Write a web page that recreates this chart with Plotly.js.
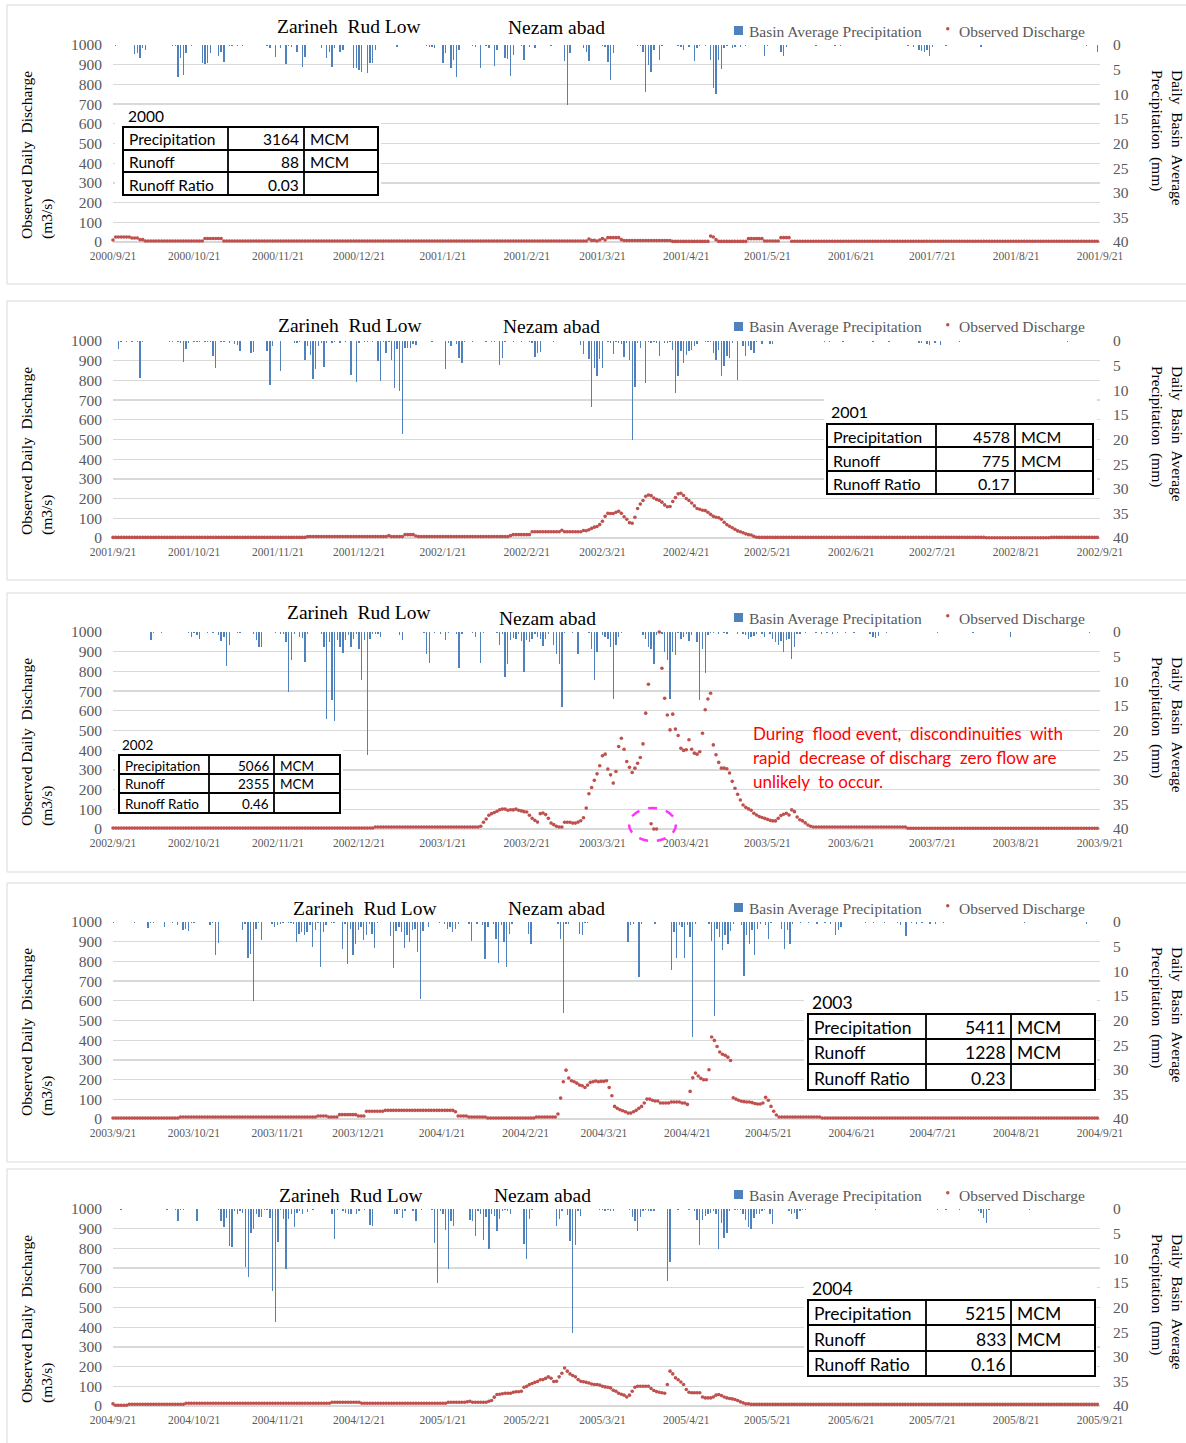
<!DOCTYPE html>
<html>
<head>
<meta charset="utf-8">
<script src="https://cdn.plot.ly/plotly-3.0.1.min.js"></script>
<style>html,body{margin:0;padding:0;background:#fff}</style>
</head>
<body>
<div id="chart" style="width:1186px;height:1443px"></div>
<script>
// ---------------- data ----------------
// hydrological years, 21 Sep to 21 Sep
const seasonStarts = ['2000-09-21', '2001-09-21', '2002-09-21', '2003-09-21', '2004-09-21'];
const seasonEnds   = ['2001-09-21', '2002-09-21', '2003-09-21', '2004-09-21', '2005-09-21'];

// summary tables (MCM)
const tableYears       = ['2000', '2001', '2002', '2003', '2004'];
const tablePrecipMCM   = [3164, 4578, 5066, 5411, 5215];
const tableRunoffMCM   = [88, 775, 2355, 1228, 833];
const tableRunoffRatio = ['0.03', '0.17', '0.46', '0.23', '0.16'];

// basin average precipitation: [day since season start, mm]
const precip2000 = [[1,0.15],[2,0.1],[8,1.9],[9,1.7],[10,2.6],[11,0.7],[12,1.1],[22,0.2],[23,0.3],[24,6.4],[25,2.7],[26,6.1],[27,1.7],[29,0.3],[33,3.7],[34,3.9],[35,3.7],[36,1.7],[39,2.2],[40,1.4],[41,3.5],[43,0.3],[44,0.3],[46,0.2],[48,0.2],[57,0.2],[58,0.7],[60,2.4],[62,0.7],[64,3.9],[65,0.3],[66,0.5],[68,1.4],[70,4.5],[71,2.4],[77,0.7],[79,2.6],[80,1.4],[81,4.4],[82,0.7],[84,1.4],[85,1],[89,4.7],[90,4.7],[91,5.1],[92,5.4],[94,5.7],[95,3.7],[96,3.7],[97,1],[105,0.5],[116,0.3],[117,0.4],[118,0.5],[119,0.6],[122,3.7],[123,1.7],[125,4.7],[126,3],[127,6.4],[128,1],[133,0.3],[134,0.4],[136,4.7],[138,0.3],[139,0.7],[141,4.2],[142,1],[145,2.7],[146,2.8],[147,6.2],[148,2],[151,0.3],[152,3],[154,0.5],[156,0.6],[162,0.2],[167,3.2],[168,12.2],[169,1.6],[174,0.7],[175,1.4],[176,3.2],[181,0.3],[182,0.4],[183,3.5],[184,7.1],[185,1.7],[194,0.2],[195,0.3],[196,1.4],[197,9.5],[198,4.1],[199,5.4],[200,1],[202,3],[203,0.2],[209,0.3],[210,0.4],[211,1],[213,0.5],[215,3.2],[216,0.7],[217,0.2],[219,0.3],[221,3],[222,8.8],[223,10],[224,3],[225,4.9],[226,0.7],[227,0.3],[229,0.6],[230,0.4],[232,0.5],[234,0.3],[241,2.2],[242,0.3],[247,1.4],[248,2.2],[249,0.4],[260,0.2],[267,0.2],[269,0.2],[294,0.3],[296,0.4],[298,1],[299,1.2],[300,1.4],[301,1],[302,2.2],[303,0.4],[308,0.3],[321,0.4],[360,0.2],[364,1.5]];
const precip2001 = [[2,1.7],[3,0.2],[5,0.2],[7,0.2],[9,0.3],[10,7.6],[11,0.3],[21,0.2],[22,0.2],[24,0.2],[25,0.5],[26,4.3],[27,1.6],[28,0.4],[30,0.3],[31,0.3],[32,0.3],[34,0.3],[35,0.3],[36,0.3],[37,3],[38,5.4],[40,0.3],[41,0.2],[43,0.5],[45,0.6],[46,0.8],[47,2],[51,2.4],[52,2.2],[57,2],[58,9],[59,1.1],[62,6.1],[67,0.5],[68,0.4],[69,0.3],[71,3.9],[72,1],[73,2.9],[74,7.8],[75,5.7],[76,1],[77,0.5],[78,5.2],[79,0.5],[81,0.4],[82,0.3],[84,0.4],[86,0.3],[88,7],[90,8.4],[91,0.4],[93,0.3],[94,0.3],[96,0.3],[98,4.1],[99,8.2],[100,0.3],[101,2.5],[102,0.3],[103,3.9],[104,9.5],[105,1.7],[106,10.1],[107,18.9],[108,1.5],[109,1.4],[110,1.4],[111,0.7],[112,0.9],[118,0.2],[123,5.6],[124,0.5],[125,1],[127,0.7],[128,3.4],[129,4.4],[130,0.3],[133,0.2],[138,0.2],[140,0.2],[141,0.3],[143,4.9],[144,3.4],[145,0.3],[148,0.2],[151,0.3],[154,0.2],[155,0.4],[156,3.2],[157,2.5],[158,2.2],[163,0.3],[173,0.9],[174,2.6],[176,3.7],[177,13.3],[178,5.4],[179,7.1],[180,3.7],[181,5.5],[183,0.3],[184,0.4],[185,2.6],[186,0.3],[187,0.5],[188,0.6],[189,3.2],[190,0.5],[191,3.8],[192,20],[193,9.3],[194,0.5],[195,1.4],[197,8.6],[198,0.3],[199,0.5],[200,0.3],[201,0.5],[202,3],[204,0.5],[205,0.5],[206,0.3],[207,1.8],[208,10.6],[209,7.2],[210,2.1],[211,4.5],[212,2.8],[213,2.1],[214,1.8],[215,1.1],[216,0.7],[219,0.2],[220,0.3],[221,0.3],[222,2.4],[223,3.8],[224,1.8],[225,7.2],[226,5.1],[227,3],[228,3.4],[229,0.5],[231,8],[233,1.1],[234,3],[235,1.1],[236,1.8],[237,2.4],[238,0.3],[240,0.7],[243,0.6],[244,0.6],[263,0.3],[265,0.2],[270,0.3],[281,0.2],[287,0.2],[298,0.4],[299,0.4],[301,0.6],[302,0.8],[304,0.5],[306,0.8],[313,0.2],[353,0.2]];
const precip2002 = [[14,1.7],[15,0.3],[18,0.2],[28,0.2],[29,1],[30,0.3],[31,0.7],[32,1.4],[35,0.3],[37,0.3],[39,0.7],[40,1.9],[41,1],[42,6.9],[43,2.6],[46,0.2],[47,0.3],[52,0.5],[53,1.7],[54,3],[55,3],[60,0.3],[62,0.5],[63,0.5],[64,2],[65,12.2],[66,5.6],[67,0.5],[69,1],[70,1.2],[71,6.1],[72,0.5],[77,0.4],[78,3],[79,17.6],[80,2],[81,13.9],[82,18.1],[83,1.7],[84,3],[85,4.2],[86,1.7],[87,0.7],[88,3],[89,1.4],[90,0.5],[91,3.5],[92,9.8],[93,1.7],[94,25],[95,1.4],[96,0.4],[97,0.4],[98,0.5],[99,1],[106,0.7],[107,1.7],[115,0.3],[116,4.4],[117,6.2],[119,0.3],[121,0.4],[123,1.7],[124,0.3],[127,0.4],[128,7.4],[129,0.5],[133,0.3],[134,1],[136,6.2],[137,0.3],[142,0.3],[143,2.6],[144,0.5],[145,9.1],[146,6.4],[147,1.7],[148,1.2],[149,1.4],[150,0.5],[151,1.9],[152,8.1],[153,1.7],[154,2],[155,1.4],[156,0.5],[157,1],[158,1.4],[159,2.8],[160,1.4],[161,0.5],[163,2.6],[164,4.4],[165,6.4],[166,15.2],[167,0.3],[170,0.2],[172,4.4],[176,0.3],[177,3.4],[178,9.8],[179,4.1],[181,0.7],[182,1],[183,1.4],[184,3],[185,13.6],[186,2.6],[187,1],[188,0.3],[196,0.7],[197,1.4],[198,3],[199,3.5],[200,6.4],[201,0.7],[203,0.5],[204,4.1],[205,5.7],[206,13.6],[207,4.1],[208,4.6],[209,0.3],[210,1.4],[211,1],[212,0.5],[213,1.9],[214,0.7],[216,2],[217,13.9],[218,3.4],[219,8.3],[220,0.7],[221,0.3],[222,0.3],[224,0.4],[226,0.3],[227,0.5],[231,0.4],[233,0.5],[234,0.7],[235,1.4],[236,1],[237,0.8],[238,0.5],[240,0.4],[241,1],[243,0.4],[244,1.4],[245,2],[246,2.6],[247,1.9],[248,4.1],[249,1.7],[250,1.4],[251,5.5],[252,3],[253,0.5],[254,0.4],[256,0.3],[260,0.3],[262,0.4],[264,0.3],[266,0.5],[268,0.2],[271,0.3],[274,0.3],[280,0.5],[281,1],[282,1.2],[283,0.8],[286,0.2],[305,0.2],[318,0.2],[332,1],[361,0.2]];
const precip2003 = [[0,0.2],[8,0.2],[13,1.2],[14,0.3],[15,0.3],[19,1],[22,0.2],[24,0.7],[26,1.7],[27,1.4],[28,1.9],[29,0.3],[30,0.2],[36,0.7],[37,0.3],[38,6.8],[39,4.2],[48,1.7],[49,0.5],[50,7.3],[51,6.4],[52,16.1],[53,1.4],[54,0.3],[55,3.7],[59,0.5],[60,1],[61,0.7],[62,0.5],[63,0.3],[65,0.2],[66,0.3],[67,0.5],[68,4.1],[69,2.4],[70,2],[71,2.7],[72,2],[73,0.7],[74,5.1],[75,1.7],[76,0.3],[77,9.1],[78,2],[79,0.7],[81,0.3],[82,0.3],[85,5.4],[86,0.5],[87,8.6],[88,1.4],[89,6.8],[90,4.4],[91,1.7],[92,1],[93,3.7],[94,2.7],[95,0.5],[96,2.4],[97,5.3],[98,0.3],[103,2.8],[104,9.3],[105,1.9],[106,1],[107,2],[108,5.3],[109,2.7],[110,4.1],[111,1.7],[112,1.4],[113,6.1],[114,15.7],[115,1.9],[117,1],[121,0.2],[123,0.5],[124,1.4],[125,1],[126,2],[127,1.4],[128,0.5],[132,0.5],[133,3.9],[135,0.4],[137,0.7],[138,7.6],[139,1],[141,0.5],[142,3.4],[143,8.4],[144,0.7],[145,4.1],[146,9.1],[147,2.4],[148,0.5],[154,2.4],[155,4.4],[165,0.5],[166,3.4],[167,18.4],[168,0.5],[169,0.5],[173,2.4],[174,2.7],[175,0.2],[176,0.2],[191,4.1],[192,0.7],[193,0.5],[195,11.1],[196,0.4],[201,0.5],[207,9.8],[208,2],[209,7.4],[210,0.7],[211,1],[212,7.3],[213,0.7],[214,3],[215,23.4],[216,0.5],[221,0.5],[222,3.9],[223,19.1],[224,1.4],[225,3],[226,5.7],[227,2.7],[228,4.4],[229,1.9],[230,0.4],[233,0.7],[234,10.9],[235,2.6],[236,4.4],[237,1.7],[238,6.6],[239,1.4],[240,0.4],[242,0.7],[243,3.4],[244,0.3],[248,1.4],[249,5.4],[250,1.7],[251,4.4],[252,0.5],[255,0.2],[258,0.3],[261,0.4],[264,0.3],[266,0.5],[268,2.7],[269,1.7],[270,1],[279,0.2],[282,0.3],[286,0.2],[291,0.3],[292,0.7],[294,2.9],[296,0.3],[298,0.5],[300,0.3],[303,0.4],[305,0.5],[308,0.3],[338,0.2],[361,0.4]];
const precip2004 = [[3,0.3],[20,0.2],[23,0.3],[24,2.5],[25,0.3],[26,0.2],[31,2.5],[39,0.3],[40,2.5],[41,3.7],[42,1.8],[43,7.6],[44,7.8],[45,0.5],[46,1.1],[47,0.5],[48,0.8],[49,11.8],[50,13.9],[51,4.9],[52,4],[53,1.1],[54,1.7],[55,1.7],[56,0.3],[57,0.3],[58,1.8],[59,16.7],[60,22.9],[61,6.6],[62,0.2],[63,2],[64,12.2],[65,2],[66,1],[67,3.7],[68,0.8],[69,0.5],[70,1.1],[72,0.7],[74,0.2],[81,1.1],[82,6],[83,0.2],[85,0.5],[86,0.8],[87,1.1],[88,1.1],[90,1.1],[91,0.5],[93,0.3],[95,3.3],[96,3.5],[104,1.1],[105,1.1],[106,0.3],[107,1.8],[108,0.4],[111,0.4],[112,2.5],[114,0.2],[118,0.3],[119,7],[120,15],[121,0.5],[122,1.1],[123,4.2],[124,12.1],[125,2.4],[126,3.5],[132,2.2],[133,2.5],[134,5.5],[135,0.5],[136,1],[137,6.2],[138,1.7],[139,8.2],[140,1.1],[141,1.5],[142,4.4],[143,2],[144,0.5],[145,0.3],[146,0.5],[147,1.1],[152,7.2],[153,10.1],[154,2],[155,0.2],[164,3.4],[165,2],[166,0.5],[168,1.3],[169,6.4],[170,25.1],[171,7.4],[172,0.5],[173,1.4],[180,0.3],[181,0.3],[182,0.5],[183,0.3],[184,0.4],[185,0.5],[191,0.3],[192,1.7],[193,2.5],[194,4.5],[195,1.7],[196,0.5],[197,0.3],[198,0.5],[199,0.4],[200,0.5],[205,14.7],[206,10.7],[209,0.2],[213,0.3],[215,0.5],[216,2.2],[217,7.4],[218,2.2],[219,1.5],[220,1.1],[221,0.8],[222,0.5],[223,1.1],[224,8.2],[225,2.8],[226,5.9],[227,4.9],[228,0.5],[230,0.3],[231,0.3],[232,0.3],[233,1.1],[234,2.2],[235,3.7],[236,4.1],[237,1.8],[238,1],[239,1.1],[240,0.5],[241,0.2],[243,1],[244,3],[250,0.5],[251,1],[252,0.8],[253,2],[254,0.5],[255,0.2],[256,0.2],[280,0.1],[282,0.2],[284,0.1],[305,0.2],[308,0.2],[313,0.2],[320,0.5],[321,0.8],[322,1.8],[323,2.8],[324,0.3],[339,0.2]];

// observed daily discharge (m3/s), one value per day from season start;
// [value, n] means the same reading on n consecutive days
const flow2000 = [10,[25,6],[20,3],[12,2],[5,22],[18,7],[5,135],15,8,8,5,10,18,10,[22,5],12,[7,18],[3,14],30,25,12,[3,11],[17,6],[5,6],[22,4],[4,114]];
const flow2001 = [[3,72],[7,30],12,[7,5],[17,4],10,[7,34],12,[17,7],[32,11],39,[32,7],38,37,42,49,55,58,68,85,110,125,124,124,131,136,125,108,95,78,75,105,150,172,190,212,218,215,203,196,191,182,168,159,160,185,205,224,227,216,200,190,178,163,150,146,141,139,131,120,110,105,103,95,80,68,60,52,44,36,32,27,21,17,15,8,4,[3,84],[1,24],[3,18]];
const flow2002 = [[5,97],[10,39],14,34,51,70,78,84,90,98,101,101,95,98,97,101,95,92,88,86,70,54,44,35,78,81,73,54,30,22,14,10,10,34,34,34,30,30,35,42,57,106,179,211,247,280,321,372,380,304,275,233,292,419,461,405,343,313,287,309,334,363,432,588,735,27,0,0,1000,816,664,579,503,583,507,475,410,399,402,453,405,385,380,392,486,605,660,689,427,377,338,309,309,306,284,242,207,176,147,122,110,102,95,80,71,63,58,54,49,44,41,41,54,68,75,80,71,97,88,61,47,41,31,20,14,[10,35],[4,71]];
const flow2003 = [[5,25],[10,51],[15,4],[10,4],[22,7],[15,3],[39,7],[44,26],37,[15,4],[10,7],[5,18],[10,8],25,106,189,248,208,194,189,182,172,169,160,172,186,189,193,189,191,191,194,160,118,64,54,47,42,37,30,30,37,44,54,64,81,101,101,95,91,91,81,81,81,81,86,86,86,86,81,81,74,140,209,233,218,206,199,199,250,416,399,368,340,329,323,314,297,108,101,95,90,88,86,86,83,79,76,76,81,110,95,64,39,20,[10,16],[5,103]];
const flow2004 = [11,[4,5],[9,21],[14,54],[19,11],[14,32],[19,7],21,24,[19,6],24,28,45,58,60,62,65,65,65,70,72,72,75,95,100,109,114,120,124,133,134,140,148,141,124,126,148,166,193,177,163,155,148,134,126,123,120,117,112,109,109,106,100,97,95,92,80,75,65,60,55,46,55,75,95,100,100,100,100,100,89,79,73,70,67,65,109,177,163,143,133,122,109,84,70,67,67,67,67,46,41,41,41,46,55,58,53,46,41,38,36,33,28,21,16,11,11,[8,129]];

const precipSeries = [precip2000, precip2001, precip2002, precip2003, precip2004];
const flowSeries = [flow2000, flow2001, flow2002, flow2003, flow2004];

// ---------------- helpers ----------------
const W = 1186, H = 1443;
const DAY = 86400000;
const PLOT_LEFT = 113, PLOT_RIGHT = 1100, PLOT_H = 197;
const plotTops = [45, 341, 632, 922, 1209];
const BLUE = '#4F81BD', RED = '#C0504D', GRID = '#d9d9d9', TICK = '#595959';
const SERIF = 'Liberation Serif', SANS = 'Lato';

function expandRuns(spec) {
  const out = [];
  spec.forEach(s => {
    if (Array.isArray(s)) { for (let i = 0; i < s[1]; i++) out.push(s[0]); }
    else out.push(s);
  });
  return out;
}
function dateAt(start, d) {
  return new Date(Date.parse(start + 'T00:00:00Z') + d * DAY).toISOString().slice(0, 10);
}
const px = x => x / W;
const py = y => 1 - y / H;
function note(x, y, text, o) {
  return Object.assign({xref: 'paper', yref: 'paper', x: px(x), y: py(y), text: text,
    showarrow: false, xanchor: 'center', yanchor: 'middle',
    font: {family: SERIF, size: 15, color: '#000'}}, o || {});
}
function box(x0, y0, x1, y1, o) {
  return Object.assign({type: 'rect', xref: 'paper', yref: 'paper',
    x0: px(x0), x1: px(x1), y0: py(y1), y1: py(y0), layer: 'above'}, o || {});
}
function seg(x0, y0, x1, y1, w) {
  return {type: 'line', xref: 'paper', yref: 'paper', x0: px(x0), x1: px(x1), y0: py(y0), y1: py(y1),
    line: {color: '#000', width: w}, layer: 'above'};
}

// ---------------- figure ----------------
const traces = [];
const layout = {
  width: W, height: H, margin: {l: 0, r: 0, t: 0, b: 0},
  paper_bgcolor: '#ffffff', plot_bgcolor: 'rgba(0,0,0,0)',
  showlegend: false, bargap: 0, shapes: [], annotations: []
};

// panel frames, titles, legends, tables
const frames = [[5, 284], [301, 580], [593, 872], [883, 1162], [1169, 1452]];
const titlePos = [[349, 26, 556, 28], [350, 325, 551, 327], [359, 613, 547, 618], [365, 908, 556, 908], [351, 1195, 542, 1195]];
const legendY = [31, 327, 618, 908, 1195];
const tableGeo = [
  {lx: 126, ly: 116, xs: [123, 228, 304, 378], ys: [127, 150, 172, 195], fs: 15.5, bg: [115, 106, 381, 197]},
  {lx: 829, ly: 412, xs: [827, 936, 1015, 1093], ys: [424, 447, 471, 494], fs: 16, bg: [824, 399, 1097, 496]},
  {lx: 120, ly: 745, xs: [119, 209, 274, 340], ys: [755, 774, 793, 813], fs: 13.5, bg: [115, 736, 343, 815]},
  {lx: 810, ly: 1002, xs: [808, 926, 1011, 1095], ys: [1014, 1039, 1064, 1090], fs: 17.5, bg: [804, 998, 1097, 1092]},
  {lx: 810, ly: 1288, xs: [808, 926, 1011, 1095], ys: [1300, 1325, 1351, 1376], fs: 17.5, bg: [804, 1285, 1097, 1378]}
];

for (let i = 0; i < 5; i++) {
  const sfx = i === 0 ? '' : String(i + 1);
  const xa = 'x' + sfx, yL = 'y' + sfx, yR = 'y' + (i + 6);
  const top = plotTops[i], bottom = top + PLOT_H;
  const start = seasonStarts[i];
  const precip = precipSeries[i];
  const flow = expandRuns(flowSeries[i]);

  traces.push({
    type: 'bar', xaxis: xa, yaxis: yR,
    x: precip.map(p => dateAt(start, p[0])), y: precip.map(p => p[1]),
    width: 0.5 * DAY, marker: {color: BLUE, line: {width: 0}}, hoverinfo: 'skip'
  });
  traces.push({
    type: 'scatter', mode: 'markers', xaxis: xa, yaxis: yL,
    x: flow.map((v, d) => dateAt(start, d)), y: flow,
    marker: {size: 3.6, color: RED, line: {width: 0}}, cliponaxis: false, hoverinfo: 'skip'
  });

  layout['xaxis' + sfx] = {
    domain: [px(PLOT_LEFT), px(PLOT_RIGHT)], anchor: yL, type: 'date',
    range: [start, seasonEnds[i]], tick0: start, dtick: 'M1', tickformat: '%Y/%-m/%-d',
    showgrid: false, zeroline: false, showline: false, ticks: '', ticklabelstandoff: 5,
    tickfont: {family: SERIF, size: 11.5, color: TICK}, fixedrange: true
  };
  layout['yaxis' + sfx] = {
    domain: [py(bottom), py(top)], anchor: xa, range: [0, 1000], tick0: 0, dtick: 100,
    showgrid: true, gridcolor: GRID, gridwidth: 1.3, zeroline: true, zerolinecolor: GRID, zerolinewidth: 1.3,
    showline: false, ticks: '', ticklabelstandoff: 10,
    tickfont: {family: SERIF, size: 15.5, color: TICK}, fixedrange: true
  };
  layout['yaxis' + (i + 6)] = {
    overlaying: yL, side: 'right', anchor: xa, range: [40, 0], tick0: 0, dtick: 5,
    showgrid: false, zeroline: false, showline: false, ticks: '', ticklabelstandoff: 12,
    tickfont: {family: SERIF, size: 15.5, color: TICK}, fixedrange: true
  };

  // frame
  layout.shapes.push(box(7, frames[i][0], 1192, frames[i][1], {line: {color: GRID, width: 1}, fillcolor: 'rgba(0,0,0,0)', layer: 'below'}));

  // station titles
  const t = titlePos[i];
  layout.annotations.push(note(t[0], t[1], 'Zarineh\u00a0 Rud Low', {font: {family: SERIF, size: 19.5, color: '#000'}}));
  layout.annotations.push(note(t[2], t[3], 'Nezam abad', {font: {family: SERIF, size: 19.5, color: '#000'}}));

  // legend
  const legY = legendY[i];
  layout.shapes.push(box(734, legY - 5, 743, legY + 4, {fillcolor: BLUE, line: {width: 0}}));
  layout.shapes.push({type: 'circle', xref: 'paper', yref: 'paper', x0: px(946), x1: px(949.5), y0: py(legY - 0.5), y1: py(legY - 4), fillcolor: RED, line: {width: 0}});
  layout.annotations.push(note(747, legY, 'Basin Average Precipitation', {xanchor: 'left', font: {family: SERIF, size: 15.5, color: TICK}}));
  layout.annotations.push(note(957, legY, 'Observed Discharge', {xanchor: 'left', font: {family: SERIF, size: 15.5, color: TICK}}));

  // axis titles
  layout.annotations.push(note(37, top + 110, 'Observed Daily  Discharge<br>(m3/s)',
    {textangle: -90, align: 'left', font: {family: SERIF, size: 15.5, color: '#000'}}));
  layout.annotations.push(note(1167, top + 93, 'Daily  Basin  Average<br>Precipitation  (mm)',
    {textangle: 90, align: 'left', font: {family: SERIF, size: 15.5, color: '#000'}}));

  // summary table
  const g = tableGeo[i];
  layout.shapes.push(box(g.bg[0], g.bg[1], g.bg[2], g.bg[3], {fillcolor: '#ffffff', line: {width: 0}}));
  layout.shapes.push(box(g.xs[0], g.ys[0], g.xs[3], g.ys[3], {fillcolor: 'rgba(0,0,0,0)', line: {color: '#000', width: 2}}));
  layout.shapes.push(seg(g.xs[0], g.ys[1], g.xs[3], g.ys[1], 1.8));
  layout.shapes.push(seg(g.xs[0], g.ys[2], g.xs[3], g.ys[2], 1.8));
  layout.shapes.push(seg(g.xs[1], g.ys[0], g.xs[1], g.ys[3], 1.8));
  layout.shapes.push(seg(g.xs[2], g.ys[0], g.xs[2], g.ys[3], 1.8));
  const tf = {family: SANS, size: g.fs, color: '#000'};
  layout.annotations.push(note(g.lx, g.ly, tableYears[i], {xanchor: 'left', font: tf}));
  const rows = [
    ['Precipitation', String(tablePrecipMCM[i]), 'MCM'],
    ['Runoff', String(tableRunoffMCM[i]), 'MCM'],
    ['Runoff Ratio', tableRunoffRatio[i], '']
  ];
  rows.forEach((r, k) => {
    const cy = (g.ys[k] + g.ys[k + 1]) / 2 + 1;
    layout.annotations.push(note(g.xs[0] + 4, cy, r[0], {xanchor: 'left', font: tf}));
    layout.annotations.push(note(g.xs[2] - 3, cy, r[1], {xanchor: 'right', font: tf}));
    if (r[2]) layout.annotations.push(note(g.xs[2] + 4, cy, r[2], {xanchor: 'left', font: tf}));
  });
}

// remark on the 2002-2003 flood record
const remark = ['During  flood event,  discondinuities  with', 'rapid  decrease of discharg  zero flow are', 'unlikely  to occur.'];
remark.forEach((line, k) => {
  layout.annotations.push(note(751, 734 + 24 * k, line, {xanchor: 'left', font: {family: SANS, size: 17, color: '#FF0000'}}));
});
layout.shapes.push({type: 'circle', xref: 'paper', yref: 'paper', x0: px(629), x1: px(676), y0: py(841), y1: py(808),
  line: {color: '#FF33FF', width: 2.5, dash: 'dash'}, fillcolor: 'rgba(0,0,0,0)', layer: 'above'});

Plotly.newPlot('chart', traces, layout, {displayModeBar: false, staticPlot: true});
</script>
</body>
</html>
